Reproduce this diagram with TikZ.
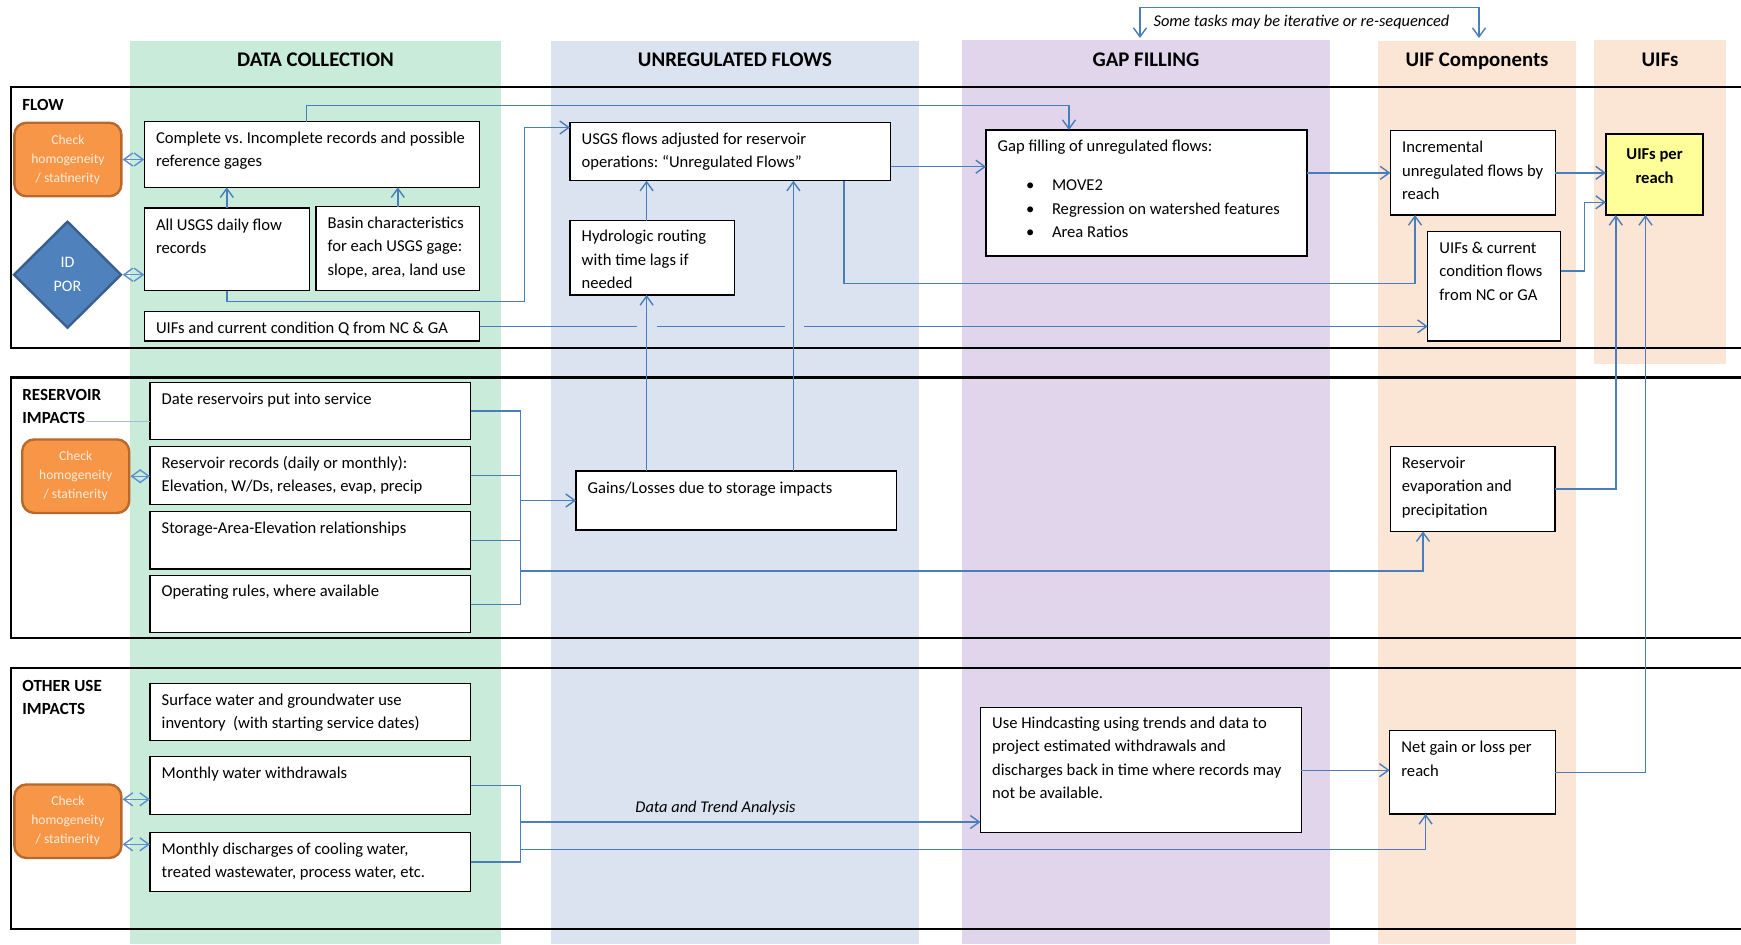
\documentclass[tikz,border=0pt]{standalone}
\usepackage{fontspec}
\setmainfont{Carlito}
\usetikzlibrary{arrows.meta,shapes.geometric}
\frenchspacing
\newlength\pxu
\setlength\pxu{0.5pt}
\makeatletter
\newcommand\bt[4]{\vbox to #2\pxu{\hsize=\dimexpr#1\pxu\relax\linewidth=\hsize\parindent=0pt\leftskip=11.7\pxu\rightskip=0pt plus 1fil\relax\parfillskip=0pt plus 1fil\relax\lineskiplimit=-100pt\relax\hbadness=10000\let\\\@normalcr\vskip\dimexpr#3\pxu-0.7\baselineskip\relax\strut #4\par\vfil}}
\newcommand\bc[4]{\vbox to #2\pxu{\hsize=\dimexpr#1\pxu\relax\linewidth=\hsize\parindent=0pt\centering\lineskiplimit=-100pt\relax\vskip\dimexpr#3\pxu-0.7\baselineskip\relax\strut #4\par\vfil}}
\makeatother
\newcommand\bodyf{\fontsize{8.3pt}{11.75pt}\selectfont}
\newcommand\bl{\hspace*{28.3\pxu}\makebox[26\pxu][l]{\textbullet}}
\definecolor{colG}{HTML}{C8ECD9}
\definecolor{colB}{HTML}{DAE3EF}
\definecolor{colP}{HTML}{E0D5EB}
\definecolor{colO}{HTML}{FBE6D5}
\definecolor{lnb}{HTML}{4A7EBB}
\definecolor{lnl}{HTML}{5B8FD0}
\definecolor{orF}{HTML}{F79646}
\definecolor{orB}{HTML}{B8682D}
\definecolor{orT}{HTML}{FDEBDD}
\definecolor{diaF}{HTML}{4F81BD}
\definecolor{diaB}{HTML}{3A5F8C}
\definecolor{yel}{HTML}{FFFF99}
\definecolor{faintc}{HTML}{A9BCD6}
\tikzset{
  box/.style={draw=black, line width=0.65pt, fill=white, inner sep=0pt, outer sep=0pt, anchor=north west, font=\bodyf},
  chk/.style={rounded corners=6pt, draw=orB, line width=1.2pt, fill=orF, minimum width=107\pxu, minimum height=73.5\pxu, inner sep=0pt, align=center, text=orT, font=\fontsize{6.8pt}{9.5pt}\selectfont},
  lbl/.style={anchor=base west, inner sep=0pt, font=\fontsize{8.5pt}{10pt}\selectfont\bfseries},
  hdr/.style={anchor=base, inner sep=0pt, font=\fontsize{10.4pt}{12pt}\selectfont\bfseries},
  itl/.style={anchor=base, inner sep=0pt, font=\fontsize{8.2pt}{10pt}\selectfont\itshape},
  lane/.style={draw=black, line width=1.1pt},
  con/.style={draw=lnb, line width=0.7pt},
  arr/.style={con, -{Straight Barb[length=4.5pt,width=6.5pt]}},
  dbl/.style={con, draw=lnl, {Straight Barb[length=4.5pt,width=6.5pt]}-{Straight Barb[length=4.5pt,width=6.5pt]}},
  faint/.style={draw=faintc, line width=0.5pt}
}
\begin{document}
\begin{tikzpicture}[x=0.5pt,y=-0.5pt]
\useasboundingbox (0,0) rectangle (1741,944);
% columns
\fill[colG] (130,41) rectangle (501,944);
\fill[colB] (551,41) rectangle (919,944);
\fill[colP] (962,40) rectangle (1330,944);
\fill[colO] (1378,41) rectangle (1575.6,944);
\fill[colO] (1593.6,40) rectangle (1726.4,364.3);
% lanes
\draw[lane] (1741,87.3) -- (10.7,87.3) -- (10.7,348.3) -- (1741,348.3);
\draw[lane] (1741,377.5) -- (10.7,377.5) -- (10.7,638.3) -- (1741,638.3);
\draw[lane] (1741,668.3) -- (10.7,668.3) -- (10.7,929.3) -- (1741,929.3);
% headers
\node[hdr] (h1) at (315.5,66) {DATA COLLECTION};
\node[hdr] (h2) at (735,66) {UNREGULATED FLOWS};
\node[hdr] (h3) at (1146,66) {GAP FILLING};
\node[hdr] (h4) at (1477,66) {UIF Components};
\node[hdr] (h5) at (1660,66) {UIFs};
\node[itl] (tasks) at (1301.5,26.7) {Some tasks may be iterative or re-sequenced};
% lane labels
\node[lbl] (lflow) at (22,110.7) {FLOW};
\node[lbl] (lres1) at (22,400.7) {RESERVOIR};
\node[lbl] (lres2) at (22,423.3) {IMPACTS};
\node[lbl] (loth1) at (22,691.7) {OTHER USE};
\node[lbl] (loth2) at (22,714.3) {IMPACTS};
% FLOW lane nodes
\node[chk] (chkA) at (67.9,159.5) {Check\\homogeneity\\/ statinerity};
\node[diamond, draw=diaB, line width=1.2pt, fill=diaF, minimum width=108\pxu, minimum height=107\pxu, inner sep=0pt, align=center, text=white, font=\fontsize{8pt}{12pt}\selectfont] (idpor) at (67.5,274.7) {ID\\POR};
\node[box] (comp) at (144.3,121.7) {\bt{335.3}{65.6}{21.6}{Complete vs. Incomplete records and possible\\reference gages}};
\node[box] (allusgs) at (144.3,208) {\bt{165}{82.7}{22}{All USGS daily flow\\records}};
\node[box] (basin) at (316,206.7) {\bt{163.6}{84}{21.6}{Basin characteristics\\for each USGS gage:\\slope, area, land use}};
\node[box] (uifq) at (144.3,311.7) {\bt{335.3}{29.3}{21.4}{UIFs and current condition Q from NC \& GA}};
\node[box] (usgsadj) at (570,122.7) {\bt{320.7}{58}{21.6}{USGS flows adjusted for reservoir\\operations: “Unregulated Flows”}};
\node[box] (hydro) at (570,220.7) {\bt{164.7}{74.3}{21}{Hydrologic routing\\with time lags if\\needed}};
\node[box] (gap) at (986,130) {\bt{321}{126}{21.7}{Gap filling of unregulated flows:\\[7.75pt]\bl MOVE2\\\bl Regression on watershed features\\\bl Area Ratios}};
\node[box] (incr) at (1390.4,130.7) {\bt{164.9}{84.3}{22}{Incremental\\unregulated flows by\\reach}};
\node[box, fill=yel, line width=0.9pt] (uifper) at (1605.9,134.3) {\bc{97.3}{80.7}{25.2}{\bfseries UIFs per\\reach}};
\node[box] (uifcur) at (1427.7,231.7) {\bt{132.8}{109.3}{21.6}{UIFs \& current\\condition flows\\from NC or GA}};
% RESERVOIR lane nodes
\node[chk] (chkB) at (75.7,476.2) {Check\\homogeneity\\/ statinerity};
\node[box] (date) at (150,382.3) {\bt{320.7}{57}{21.7}{Date reservoirs put into service}};
\node[box] (recs) at (150,446.7) {\bt{320.7}{57.6}{21.6}{Reservoir records (daily or monthly):\\Elevation, W/Ds, releases, evap, precip}};
\node[box] (sae) at (150,511.7) {\bt{320.7}{57.3}{21.6}{Storage-Area-Elevation relationships}};
\node[box] (ops) at (150,575.7) {\bt{320.7}{57}{21}{Operating rules, where available}};
\node[box] (gains) at (576,471) {\bt{320.2}{59}{22.3}{Gains/Losses due to storage impacts}};
\node[box] (evap) at (1390.2,446.7) {\bt{164.7}{84.6}{21.6}{Reservoir\\evaporation and\\precipitation}};
% OTHER USE lane nodes
\node[chk] (chkC) at (67.9,821.2) {Check\\homogeneity\\/ statinerity};
\node[box] (surf) at (150,683.3) {\bt{320.7}{57.4}{22}{Surface water and groundwater use\\inventory\ \ (with starting service dates)}};
\node[box] (wd) at (150,756.7) {\bt{320.7}{57.6}{21.6}{Monthly water withdrawals}};
\node[box] (dis) at (150,832.3) {\bt{320.7}{59.4}{22}{Monthly discharges of cooling water,\\treated wastewater, process water, etc.}};
\node[box] (hind) at (980.5,707.7) {\bt{320.7}{125}{20.6}{Use Hindcasting using trends and data to\\project estimated withdrawals and\\discharges back in time where records may\\not be available.}};
\node[box] (net) at (1389.7,730.7) {\bt{165.7}{83.3}{22}{Net gain or loss per\\reach}};
\node[itl] (dta) at (715.5,812) {Data and Trend Analysis};
% connectors: FLOW
\coordinate (t1) at (1140,38);
\coordinate (t2) at (1479,38);
\coordinate (tt) at (1300,7.3);
\draw[arr, {Straight Barb[length=4.5pt,width=6.5pt]}-{Straight Barb[length=4.5pt,width=6.5pt]}] (t1) |- (tt) -| (t2);
\draw[dbl] (chkA.east) -- (chkA.east -| comp.west);
\draw[dbl] (idpor.east) -- (idpor.east -| allusgs.west);
\draw[arr] (allusgs.north) -- (allusgs.north |- comp.south);
\draw[arr] (basin.north) -- (basin.north |- comp.south);
\coordinate (k1) at (1069,105.5);
\draw[arr] ([xshift=-2.8pt]comp.north) |- (k1) -- (k1 |- gap.north);
\coordinate (k2) at (524.3,301.7);
\coordinate (k3) at (524.3,127.5);
\draw[arr] (allusgs.south) |- (k2) -- (k3) -- (k3 -| usgsadj.west);
\draw[arr] (uifq.east) -- (uifq.east -| uifcur.west);
\fill[colB] (637,322.5) rectangle (657,330.5);
\fill[colB] (784.5,322.5) rectangle (803.5,330.5);
\coordinate (c1) at (646.6,0);
\coordinate (c2) at (793.4,0);
\draw[arr] (gains.north -| c1) -- (hydro.south -| c1);
\draw[arr] (hydro.north -| c1) -- (usgsadj.south -| c1);
\draw[arr] (gains.north -| c2) -- (usgsadj.south -| c2);
\draw[arr] ([yshift=-7.5pt]usgsadj.east) -- ([yshift=-7.5pt]usgsadj.east -| gap.west);
\coordinate (k4) at (844,283.3);
\coordinate (k5) at (1415,283.3);
\draw[arr] (usgsadj.south -| k4) -- (k4) -- (k5) -- (k5 |- incr.south);
\draw[arr] (gap.east |- incr.west) -- (incr.west);
\draw[arr] (incr.east) -- (incr.east -| uifper.west);
\coordinate (k6) at (1584.6,271);
\coordinate (k7) at (1584.6,202.3);
\draw[arr] (uifcur.east |- k6) -- (k6) -- (k7) -- (k7 -| uifper.west);
\coordinate (c3) at (1615.8,0);
\coordinate (c4) at (1645.5,0);
\draw[arr] (evap.east) -| (uifper.south -| c3);
\draw[arr] (net.east) -| (uifper.south -| c4);
% connectors: RESERVOIR
\coordinate (bx) at (520.4,0);
\draw[con] (date.east) -| (bx |- ops.east) -- (ops.east);
\draw[con] (recs.east) -- (recs.east -| bx);
\draw[con] (sae.east) -- (sae.east -| bx);
\draw[arr] (bx |- gains.west) -- (gains.west);
\coordinate (k8) at (1423,571);
\draw[arr] (bx |- k8) -- (k8) -- (k8 |- evap.south);
\draw[dbl] (chkB.east) -- (chkB.east -| recs.west);
\draw[faint] ([yshift=1pt]lres2.base east) -- ([yshift=1pt]lres2.base east -| date.west);
% connectors: OTHER USE
\draw[dbl] ([yshift=10.95pt]chkC.east) -- ([yshift=10.95pt]chkC.east -| wd.west);
\draw[dbl] ([yshift=-11.55pt]chkC.east) -- ([yshift=-11.55pt]chkC.east -| dis.west);
\draw[con] (wd.east) -| (bx |- dis.east) -- (dis.east);
\coordinate (k9) at (520.4,822);
\draw[arr] (k9) -- (k9 -| hind.west);
\coordinate (k10) at (1425.6,849.3);
\draw[arr] (bx |- k10) -- (k10) -- (k10 |- net.south);
\draw[arr] (hind.east) -- (hind.east -| net.west);
\end{tikzpicture}
\end{document}
